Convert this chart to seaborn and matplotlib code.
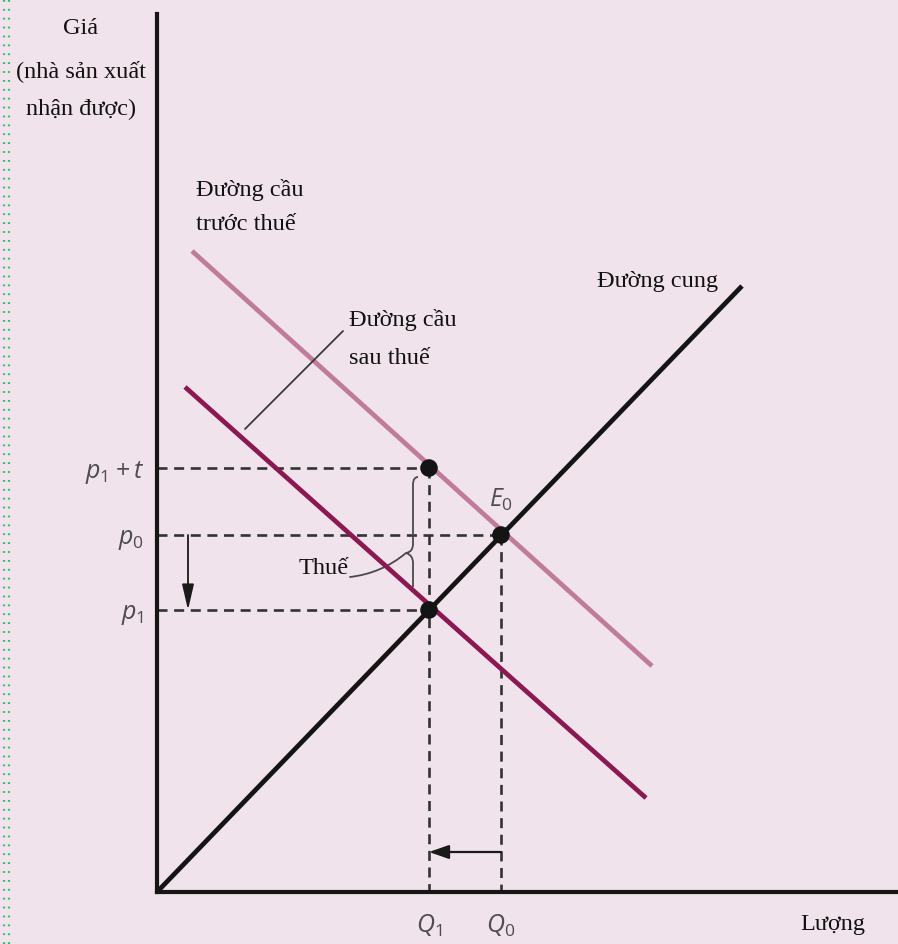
import numpy as np
import pandas as pd
import matplotlib
matplotlib.use("Agg")
import matplotlib.pyplot as plt
import seaborn as sns
from matplotlib.path import Path
from matplotlib.patches import PathPatch, FancyArrowPatch
from matplotlib.lines import Line2D

# ---------------- data (units: arbitrary quantity / price) ----------------
supply_q = [0.0, 58.5]
supply_p = [0.0, 60.6]
demand_before_q = [3.5, 49.5]
demand_before_p = [64.1, 22.6]
demand_after_q = [2.8, 48.9]
demand_after_p = [50.5, 9.4]

Q1, Q0 = 27.2, 34.4
p1, p0, p1t = 28.2, 35.7, 42.4

point_q = [Q1, Q0, Q1]
point_p = [p1t, p0, p1]

ytick_vals = [p1, p0, p1t]
ytick_labels = [r"$p_1$", r"$p_0$", r"$p_1 + t$"]
xtick_vals = [Q1, Q0]
xtick_labels = [r"$Q_1$", r"$Q_0$"]

# ---------------- style ----------------
BG = "#f0e3eb"
sns.set_theme(style="white")
plt.rcParams["font.family"] = ["Liberation Serif", "DejaVu Serif"]
plt.rcParams["mathtext.fontset"] = "custom"
plt.rcParams["mathtext.it"] = "Open Sans:italic"
plt.rcParams["mathtext.rm"] = "Open Sans"
plt.rcParams["mathtext.bf"] = "Open Sans:bold"

fig = plt.figure(figsize=(8.98, 9.45), dpi=100, facecolor=BG)
ax = fig.add_axes([0, 0, 1, 1])
ax.set_facecolor(BG)

# pixel -> data helpers (origin of the axes at pixel (157, 893))
def X(px):
    return (px - 157) / 10.0

def Y(py):
    return (893 - py) / 10.0

ax.set_xlim(X(0), X(898))
ax.set_ylim(Y(945), Y(0))

# axes spines as the drawn axes
for s in ["top", "right"]:
    ax.spines[s].set_visible(False)
ax.spines["left"].set_position(("data", 0))
ax.spines["bottom"].set_position(("data", 0))
ax.spines["left"].set_bounds(0, Y(15))
ax.spines["bottom"].set_bounds(0, X(898))
for s in ["left", "bottom"]:
    ax.spines[s].set_linewidth(3.0)
    ax.spines[s].set_color("#161616")
    ax.spines[s].set_capstyle("projecting")

ax.set_yticks(ytick_vals)
ax.set_yticklabels(ytick_labels)
ax.set_xticks(xtick_vals)
ax.set_xticklabels(xtick_labels)
ax.tick_params(axis="y", length=0, pad=9, labelsize=18, labelcolor="#4d4d4d")
ax.tick_params(axis="x", length=0, pad=14, labelsize=18, labelcolor="#4d4d4d")

# ---------------- dashed guides ----------------
dash_kw = dict(color="#333333", lw=1.9, estimator=None, sort=False,
               linestyle=(0, (3.8, 2.5)), ax=ax)
sns.lineplot(x=[0, Q1], y=[p1t, p1t], **dash_kw)
sns.lineplot(x=[0, Q0], y=[p0, p0], **dash_kw)
sns.lineplot(x=[0, Q1], y=[p1, p1], **dash_kw)
sns.lineplot(x=[Q1, Q1], y=[p1t, 0], **dash_kw)
sns.lineplot(x=[Q0, Q0], y=[p0, 0], **dash_kw)

# ---------------- curves ----------------
sns.lineplot(x=demand_before_q, y=demand_before_p, color="#c07b9b", lw=3.4,
             estimator=None, sort=False, ax=ax, solid_capstyle="butt")
sns.lineplot(x=demand_after_q, y=demand_after_p, color="#8b1852", lw=3.4,
             estimator=None, sort=False, ax=ax, solid_capstyle="butt")
sns.lineplot(x=supply_q, y=supply_p, color="#141414", lw=3.4,
             estimator=None, sort=False, ax=ax, solid_capstyle="butt")

sns.scatterplot(x=point_q, y=point_p, color="#141414", s=160, ax=ax,
                edgecolor="none", zorder=5)

# ---------------- arrows ----------------
ax.annotate("", xy=(X(188), p1), xytext=(X(188), p0),
            arrowprops=dict(arrowstyle="-|>,head_length=1.3,head_width=0.3",
                            color="#1a1a1a", lw=1.3, shrinkA=0, shrinkB=0))
ax.annotate("", xy=(Q1, Y(853)), xytext=(Q0, Y(853)),
            arrowprops=dict(arrowstyle="-|>,head_length=1.0,head_width=0.35",
                            color="#1a1a1a", lw=1.6, shrinkA=0, shrinkB=0))

# ---------------- tax brace ----------------
verts = [
    (X(418), Y(478)), (X(413), Y(478)), (X(413), Y(486)),
    (X(413), Y(545)),
    (X(413), Y(553)), (X(406), Y(554)),
    (X(413), Y(556)), (X(413), Y(564)),
    (X(413), Y(588)),
]
codes = [Path.MOVETO, Path.CURVE3, Path.CURVE3, Path.LINETO,
         Path.CURVE3, Path.CURVE3, Path.CURVE3, Path.CURVE3, Path.LINETO]
ax.add_patch(PathPatch(Path(verts, codes), fill=False, lw=1.3,
                       edgecolor="#4a4a4a", zorder=4))

ax.add_patch(FancyArrowPatch((X(350), Y(578)), (X(406), Y(554)),
                             arrowstyle="-", connectionstyle="arc3,rad=0.15",
                             lw=1.3, color="#4a4a4a", shrinkA=0, shrinkB=0))

# leader for after-tax demand label
sns.lineplot(x=[X(343), X(245)], y=[Y(332), Y(430)], color="#3a3a3a", lw=1.3,
             estimator=None, sort=False, ax=ax)

# ---------------- texts ----------------
tk = dict(fontsize=17.5, color="#111111")
ax.text(X(81), Y(28), "Giá", ha="center", va="center", **tk)
ax.text(X(81), Y(71), "(nhà sản xuất", ha="center", va="center", **tk)
ax.text(X(81), Y(109), "nhận được)", ha="center", va="center", **tk)
ax.text(X(196), Y(190), "Đường cầu", ha="left", va="center", **tk)
ax.text(X(196), Y(225), "trước thuế", ha="left", va="center", **tk)
ax.text(X(349), Y(320), "Đường cầu", ha="left", va="center", **tk)
ax.text(X(349), Y(358), "sau thuế", ha="left", va="center", **tk)
ax.text(X(597), Y(282), "Đường cung", ha="left", va="center", **tk)
ax.text(X(324), Y(568), "Thuế", ha="center", va="center", **tk)
ax.text(X(833), Y(925), "Lượng", ha="center", va="center", **tk)
ax.text(X(501), Y(500), r"$E_0$", ha="center", va="center",
        fontsize=18, color="#4d4d4d")

# left decorative dotted border
for xf in (3.5 / 898, 8.5 / 898):
    fig.add_artist(Line2D([xf, xf], [0, 1], transform=fig.transFigure,
                          color="#2fbf6a", lw=1.6, linestyle=(0, (0.8, 3.2))))

fig.savefig("out.png", dpi=100, facecolor=BG)
